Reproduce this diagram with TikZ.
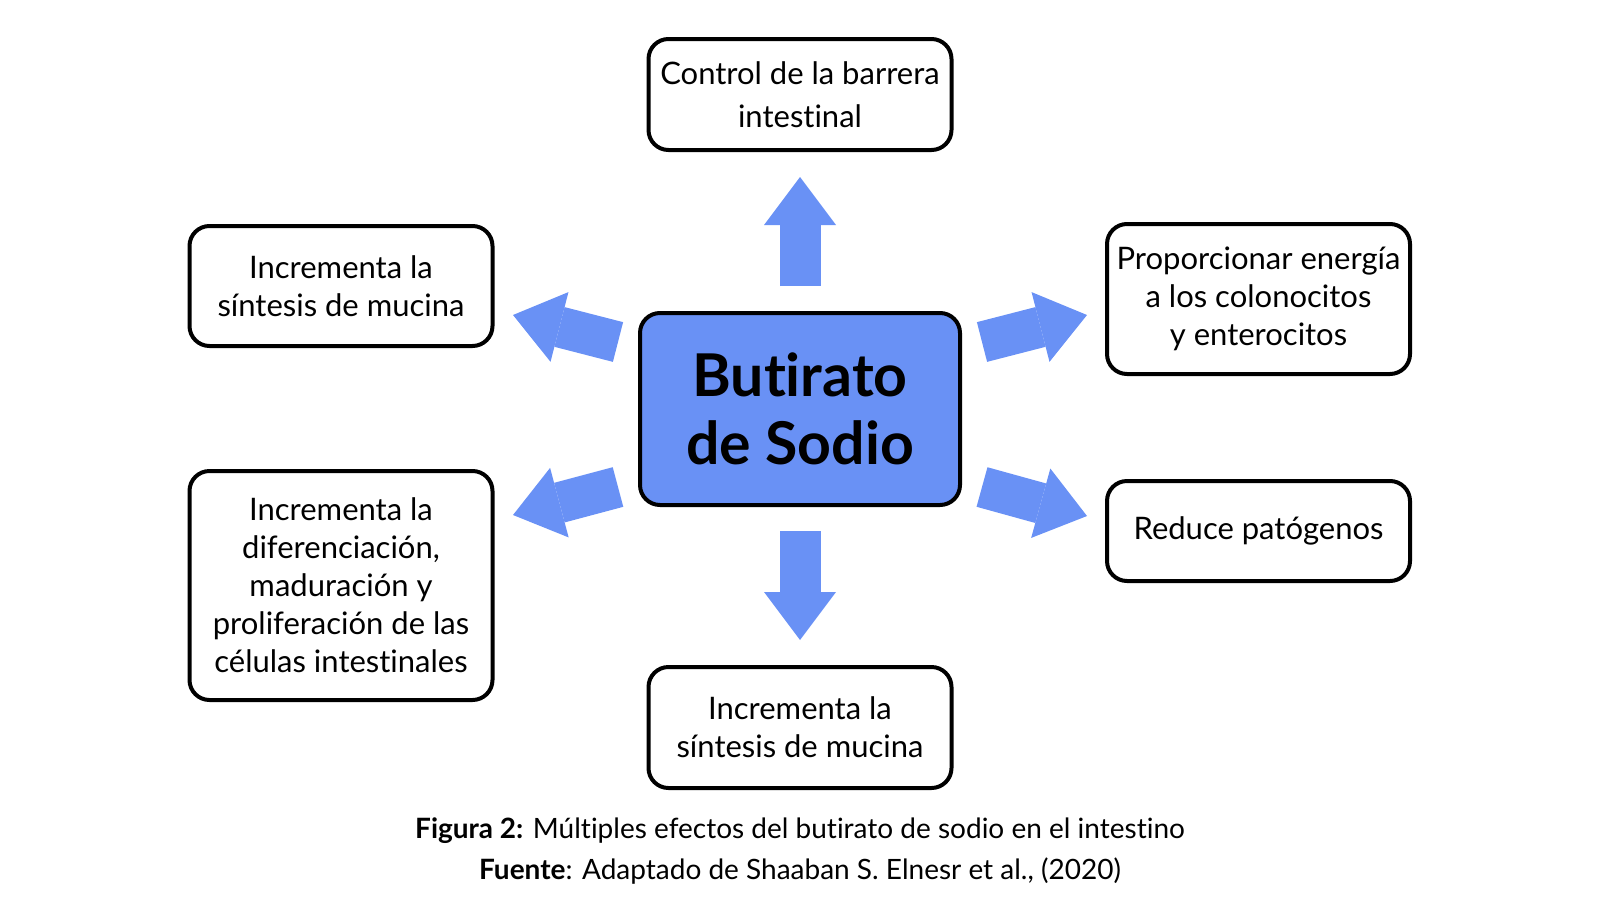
\documentclass[tikz,border=0pt]{standalone}
\usepackage{fontspec}
\setmainfont{Lato}[Ligatures=NoCommon]
\usetikzlibrary{arrows.meta}
\definecolor{butblue}{RGB}{105,145,245}

\begin{document}
\begin{tikzpicture}[x=0.5pt,y=-0.5pt]
        \tikzstyle{box} = [draw,line width=2pt,rounded corners=10pt,inner sep=0pt,
          minimum width=151.5pt,align=center,font=\fontsize{15.5}{19}\selectfont]
        \tikzstyle{flecha} = [butblue,line width=20.5pt,
          -{Triangle[length=24pt,width=36pt,line width=0pt]}]
        \useasboundingbox (0,0) rectangle (1600,900);

        \node[box,fill=butblue,minimum width=160pt,minimum height=96pt,
          font=\fontsize{29.5}{34}\selectfont\bfseries] (but) at (800,409) {Butirato\\de Sodio};

        \node[box,minimum height=55.5pt] (ctrl) at (800,94.5) {Control de la barrera\\[2.5pt]intestinal};
        \node[box,minimum height=60pt] (muc) at (341,286) {Incrementa la\\síntesis de mucina};
        \node[box,minimum height=114.5pt] (dif) at (341,585.5)
          {Incrementa la\\diferenciación,\\maduración y\\proliferación de las\\células intestinales};
        \node[box,minimum height=75pt] (ener) at (1258.5,299)
          {Proporcionar energía\\a los colonocitos\\y enterocitos};
        \node[box,minimum height=50pt] (pat) at (1258.5,531) {Reduce patógenos};
        \node[box,minimum height=60.5pt] (muc2) at (800,727.5) {Incrementa la\\síntesis de mucina};

        \foreach \n/\ax/\ay/\bx/\by in {up/800/286/800/177, down/800/531/800/640,
          ul/618/342/513/315, ll/618/487/513/515,
          ur/982/342/1087/315, lr/982/487/1087/516} {
          \coordinate (\n0) at (\ax,\ay);
          \coordinate (\n1) at (\bx,\by);
          \draw[flecha] (\n0) -- (\n1);
        }

        \node[font=\fontsize{14}{17}\selectfont] (fig) at (800,831)
          {\textbf{Figura 2:} Múltiples efectos del butirato de sodio en el intestino};
        \node[font=\fontsize{14}{17}\selectfont] (src) at (800,871)
          {\textbf{Fuente}: Adaptado de Shaaban S. Elnesr et al., (2020)};
      \end{tikzpicture}
\end{document}
